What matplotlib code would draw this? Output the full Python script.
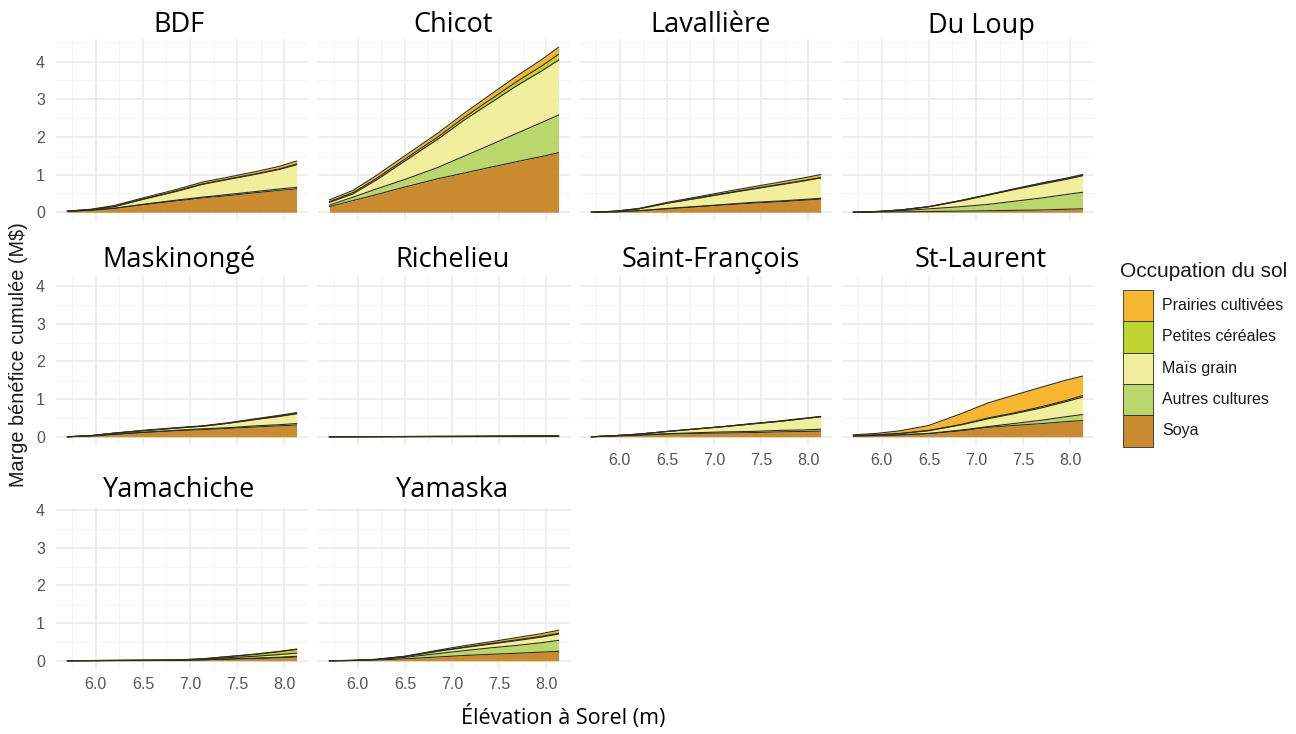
import matplotlib

matplotlib.use("Agg")
import matplotlib.pyplot as plt
import numpy as np
from matplotlib.patches import Rectangle

# elevation at Sorel (m) where the cumulative margin was evaluated
ELEVATION = [5.7, 5.95, 6.2, 6.5, 6.85, 7.13, 7.4, 7.7, 7.95, 8.13]

BASINS = ["BDF", "Chicot", "Lavallière", "Du Loup",
          "Maskinongé", "Richelieu", "Saint-François", "St-Laurent",
          "Yamachiche", "Yamaska"]

# stacking order, bottom to top
LAYERS = ["Soya", "Autres cultures", "Maïs grain", "Petites céréales", "Prairies cultivées"]
LAYER_COLORS = ["#C98A30", "#BAD76E", "#F1EE9E", "#BDD52E", "#F6B630"]

# cumulative margin (M$) per layer and basin
SOYA = {
    "BDF": [0.02, 0.05, 0.10, 0.20, 0.30, 0.38, 0.44, 0.52, 0.58, 0.62],
    "Chicot": [0.15, 0.31, 0.47, 0.67, 0.89, 1.04, 1.19, 1.35, 1.48, 1.58],
    "Lavallière": [0.0, 0.01, 0.04, 0.09, 0.15, 0.20, 0.24, 0.28, 0.32, 0.35],
    "Du Loup": [0.0, 0.005, 0.01, 0.02, 0.03, 0.04, 0.05, 0.06, 0.08, 0.09],
    "Maskinongé": [0.0, 0.02, 0.06, 0.11, 0.16, 0.19, 0.22, 0.26, 0.29, 0.31],
    "Richelieu": [0.0, 0.001, 0.002, 0.003, 0.004, 0.005, 0.006, 0.007, 0.008, 0.009],
    "Saint-François": [0.0, 0.02, 0.04, 0.07, 0.09, 0.10, 0.11, 0.13, 0.14, 0.15],
    "St-Laurent": [0.02, 0.03, 0.05, 0.08, 0.16, 0.25, 0.30, 0.35, 0.40, 0.43],
    "Yamachiche": [0.0, 0.002, 0.005, 0.007, 0.01, 0.02, 0.04, 0.06, 0.08, 0.10],
    "Yamaska": [0.0, 0.005, 0.02, 0.05, 0.10, 0.14, 0.17, 0.20, 0.23, 0.25],
}
AUTRES = {
    "BDF": [0.0, 0.01, 0.01, 0.01, 0.02, 0.02, 0.03, 0.03, 0.04, 0.04],
    "Chicot": [0.04, 0.09, 0.15, 0.20, 0.30, 0.45, 0.59, 0.76, 0.90, 1.00],
    "Lavallière": [0.0, 0.0, 0.0, 0.01, 0.01, 0.01, 0.02, 0.02, 0.02, 0.02],
    "Du Loup": [0.0, 0.01, 0.03, 0.07, 0.12, 0.17, 0.24, 0.32, 0.39, 0.44],
    "Maskinongé": [0.0, 0.0, 0.01, 0.01, 0.01, 0.02, 0.02, 0.03, 0.03, 0.04],
    "Richelieu": [0.0, 0.0, 0.0, 0.001, 0.001, 0.001, 0.002, 0.002, 0.003, 0.003],
    "Saint-François": [0.0, 0.0, 0.01, 0.01, 0.02, 0.03, 0.03, 0.04, 0.04, 0.05],
    "St-Laurent": [0.0, 0.0, 0.0, 0.01, 0.02, 0.02, 0.05, 0.09, 0.13, 0.16],
    "Yamachiche": [0.0, 0.0, 0.0, 0.0, 0.0, 0.005, 0.01, 0.01, 0.015, 0.02],
    "Yamaska": [0.0, 0.003, 0.01, 0.04, 0.09, 0.13, 0.17, 0.21, 0.25, 0.29],
}
MAIS = {
    "BDF": [0.01, 0.01, 0.04, 0.13, 0.23, 0.34, 0.40, 0.46, 0.52, 0.60],
    "Chicot": [0.07, 0.09, 0.24, 0.49, 0.75, 0.96, 1.11, 1.27, 1.37, 1.46],
    "Lavallière": [0.0, 0.015, 0.05, 0.14, 0.22, 0.29, 0.35, 0.43, 0.49, 0.54],
    "Du Loup": [0.0, 0.005, 0.02, 0.055, 0.155, 0.245, 0.31, 0.37, 0.40, 0.44],
    "Maskinongé": [0.0, 0.01, 0.025, 0.04, 0.06, 0.07, 0.115, 0.17, 0.22, 0.26],
    "Richelieu": [0.0, 0.001, 0.002, 0.002, 0.004, 0.005, 0.006, 0.008, 0.01, 0.012],
    "Saint-François": [0.0, 0.01, 0.02, 0.06, 0.105, 0.145, 0.20, 0.24, 0.30, 0.33],
    "St-Laurent": [0.01, 0.02, 0.035, 0.07, 0.14, 0.21, 0.26, 0.33, 0.40, 0.46],
    "Yamachiche": [0.0, 0.002, 0.003, 0.005, 0.006, 0.015, 0.03, 0.05, 0.07, 0.08],
    "Yamaska": [0.0, 0.001, 0.005, 0.02, 0.06, 0.08, 0.10, 0.13, 0.15, 0.17],
}
PETITES = {
    "BDF": [0.0, 0.0, 0.01, 0.01, 0.01, 0.01, 0.01, 0.01, 0.01, 0.02],
    "Chicot": [0.02, 0.03, 0.04, 0.05, 0.06, 0.07, 0.09, 0.11, 0.13, 0.15],
    "Lavallière": [0.0, 0.0, 0.0, 0.0, 0.01, 0.01, 0.01, 0.01, 0.01, 0.01],
    "Du Loup": [0.0, 0.0, 0.0, 0.005, 0.01, 0.01, 0.01, 0.02, 0.02, 0.02],
    "Maskinongé": [0.0, 0.0, 0.0, 0.0, 0.0, 0.0, 0.005, 0.005, 0.01, 0.01],
    "Richelieu": [0.0, 0.0, 0.0, 0.0, 0.0, 0.0, 0.0, 0.0, 0.0, 0.0],
    "Saint-François": [0.0, 0.0, 0.0, 0.0, 0.0, 0.0, 0.0, 0.0, 0.0, 0.0],
    "St-Laurent": [0.0, 0.0, 0.005, 0.01, 0.01, 0.02, 0.02, 0.03, 0.03, 0.04],
    "Yamachiche": [0.0, 0.001, 0.002, 0.003, 0.004, 0.01, 0.03, 0.05, 0.075, 0.10],
    "Yamaska": [0.0, 0.0, 0.0, 0.005, 0.01, 0.01, 0.015, 0.02, 0.02, 0.02],
}
PRAIRIES = {
    "BDF": [0.0, 0.01, 0.02, 0.03, 0.04, 0.05, 0.05, 0.06, 0.07, 0.08],
    "Chicot": [0.05, 0.06, 0.08, 0.09, 0.10, 0.11, 0.13, 0.15, 0.17, 0.19],
    "Lavallière": [0.0, 0.005, 0.01, 0.02, 0.03, 0.04, 0.05, 0.06, 0.07, 0.08],
    "Du Loup": [0.0, 0.0, 0.0, 0.0, 0.005, 0.005, 0.01, 0.01, 0.01, 0.01],
    "Maskinongé": [0.0, 0.0, 0.005, 0.01, 0.01, 0.01, 0.01, 0.015, 0.02, 0.02],
    "Richelieu": [0.0, 0.0, 0.0, 0.0, 0.001, 0.001, 0.001, 0.001, 0.001, 0.001],
    "Saint-François": [0.0, 0.0, 0.0, 0.0, 0.005, 0.005, 0.01, 0.01, 0.01, 0.01],
    "St-Laurent": [0.02, 0.04, 0.07, 0.13, 0.29, 0.40, 0.47, 0.52, 0.54, 0.52],
    "Yamachiche": [0.0, 0.0, 0.0, 0.0, 0.0, 0.0, 0.0, 0.01, 0.01, 0.01],
    "Yamaska": [0.0, 0.001, 0.005, 0.005, 0.02, 0.04, 0.045, 0.06, 0.07, 0.08],
}
LAYER_DATA = [SOYA, AUTRES, MAIS, PETITES, PRAIRIES]

# figure layout in pixels (figure is 1296 x 734 at dpi 100)
W, H = 1296, 734
COL_LEFT = [56, 318, 580, 842]
ROW_TOP = [39, 263.5, 487.5]
PANEL_W, PANEL_H = 252, 181.5
TITLE_X = [179, 453, 711, 981]
TITLE_Y = [25.5, 260, 490]
COVER_BOTTOM = [None, 276, 508]

TICK_FONT = "Liberation Sans"
TITLE_FONT = "Open Sans"
OUTLINE = "#2e2e22"


def add_panel(fig, col, row):
    left = COL_LEFT[col] / W
    bottom = 1 - (ROW_TOP[row] + PANEL_H) / H
    return fig.add_axes([left, bottom, PANEL_W / W, PANEL_H / H])


def expand(lo, hi, frac=0.05):
    pad = (hi - lo) * frac
    return lo - pad, hi + pad


def draw_legend(fig):
    fig.text(1120 / W, 1 - 272 / H, "Occupation du sol", ha="left", va="center",
             fontsize=15, family=TICK_FONT, color="#1a1a1a")
    key_w, key_h, key_top = 30, 31.3, 290
    for k, (label, color) in enumerate(zip(LAYERS[::-1], LAYER_COLORS[::-1])):
        y_top = key_top + k * key_h
        fig.add_artist(Rectangle((1122.5 / W, 1 - (y_top + key_h) / H), key_w / W, key_h / H,
                                 transform=fig.transFigure, facecolor=color,
                                 edgecolor=OUTLINE, linewidth=0.6))
        fig.text(1162 / W, 1 - (y_top + key_h / 2) / H, label, ha="left", va="center",
                 fontsize=11.5, family=TICK_FONT, color="#1a1a1a")


def main():
    fig = plt.figure(figsize=(W / 100, H / 100), dpi=100)
    x = np.asarray(ELEVATION)

    totals = [np.sum([np.asarray(d[b]) for d in LAYER_DATA], axis=0) for b in BASINS]
    ymax = max(float(t.max()) for t in totals)
    xlim = expand(x.min(), x.max())
    ylim = expand(0.0, ymax)

    n = len(BASINS)
    for i, basin in enumerate(BASINS):
        row, col = divmod(i, 4)
        ax = add_panel(fig, col, row)
        base = np.zeros_like(x)
        for layer, color in zip(LAYER_DATA, LAYER_COLORS):
            top = base + np.asarray(layer[basin])
            ax.fill_between(x, base, top, color=color, linewidth=0, zorder=2)
            ax.plot(x, top, color=OUTLINE, linewidth=0.8, zorder=3)
            base = top

        ax.set_xlim(*xlim)
        ax.set_ylim(*ylim)
        ax.set_xticks([6.0, 6.5, 7.0, 7.5, 8.0])
        ax.set_xticks(np.arange(5.75, 8.3, 0.5), minor=True)
        ax.set_yticks([0, 1, 2, 3, 4])
        ax.set_yticks([0.5, 1.5, 2.5, 3.5, 4.5], minor=True)
        ax.grid(which="major", color="#e9e9e9", linewidth=1.1, zorder=0)
        ax.grid(which="minor", color="#f3f3f3", linewidth=0.6, zorder=0)
        ax.set_axisbelow(True)
        for spine in ax.spines.values():
            spine.set_visible(False)

        is_bottom = i + 4 >= n
        ax.tick_params(which="both", length=0, labelsize=11.5, labelcolor="#555555",
                       labelleft=(col == 0), labelbottom=is_bottom)
        ax.tick_params(axis="y", pad=8)
        ax.tick_params(axis="x", pad=6)
        ax.set_xticklabels(["6.0", "6.5", "7.0", "7.5", "8.0"])
        for lab in ax.get_xticklabels() + ax.get_yticklabels():
            lab.set_fontfamily(TICK_FONT)

        # white block under the panel titles of the lower rows
        if COVER_BOTTOM[row] is not None:
            y0 = ROW_TOP[row] - 12
            fig.add_artist(Rectangle(
                (COL_LEFT[col] / W, 1 - COVER_BOTTOM[row] / H),
                PANEL_W / W, (COVER_BOTTOM[row] - y0) / H,
                transform=fig.transFigure, facecolor="white", edgecolor="none", zorder=2))

        fig.text(TITLE_X[col] / W, 1 - TITLE_Y[row] / H, basin,
                 ha="center", va="center", fontsize=19.5, family=TITLE_FONT,
                 fontweight="medium", color="black", zorder=4)

    fig.text(563 / W, 1 - 717 / H, "Élévation à Sorel (m)", ha="center", va="center",
             fontsize=15.5, family=TITLE_FONT, color="black")
    fig.text(19 / W, 1 - 355 / H, "Marge bénéfice cumulée (M$)", ha="center", va="center",
             rotation=90, fontsize=14.3, family=TICK_FONT, color="#1a1a1a")

    draw_legend(fig)

    fig.savefig("out.png", dpi=100)
    plt.close(fig)


if __name__ == "__main__":
    main()
